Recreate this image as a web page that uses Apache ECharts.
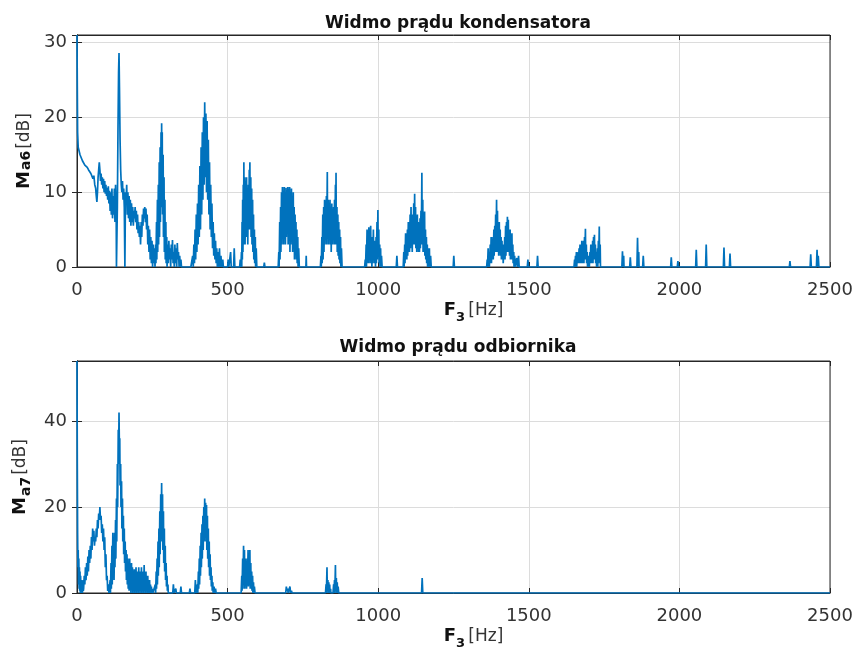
<!DOCTYPE html>
<html>
<head>
<meta charset="utf-8">
<script src="https://cdn.jsdelivr.net/npm/echarts@6/dist/echarts.min.js"></script>
<style>
	html, body { margin: 0; padding: 0; background: #fff; }
	#wykres { width: 858px; height: 660px; }
</style>
</head>
<body>
<div id="wykres"></div>
<script>
// dane: [F (Hz), M (dB)]
var tytuly = ['Widmo prądu kondensatora', 'Widmo prądu odbiornika'];
var xTicks = [0, 500, 1000, 1500, 2000, 2500];
var yMax = [31, 54];
var yStep = [10, 20];

var widmoKondensatora = [
	[0,31],[1,24],[2,18],[4,16],[7,15.5],[10,15],[14,14.6],[18,14.2],[22,14],[26,13.6],[30,13.4],[34,13.3],[38,13],[42,12.8],[46,12.5],[50,12.6],[53,11.8],[56,12.2],[59,11],[62,10.5],[64,9.5],[66,8.7],[68,10],[70,12],[72,13],[74,14],[76,13],[78,11.5],[80,12.5],[82,11],[84,12],[86,10.5],[88,11.8],[90,10],[92,11.5],[94,9.8],[96,11],[98,9.5],[100,10.6],[102,9],[104,10.8],[106,8.5],[108,10.2],[110,7.5],[112,10],[114,7],[116,10.5],[118,6.5],[120,9.5],[122,7],[124,10.5],[126,6],[128,11],[130,8],
	[131,0],[134,8],[136,18],[138,26],[139.5,28.6],[141,24],[143,17],[145,13],[147,11],[149,10],[151,11.5],[153,9],[155,10.5],[157,8],[159,0],[161,10],[163,9],[165,11],[167,7],[169,10],[171,6.5],[173,9.5],[175,6],[177,9],[179,5.5],[181,8.5],[183,6],[185,8],[187,5.5],[189,7.5],[191,6.5],[193,8],[195,6],[197,7.5],[199,5],[201,7],[203,4.5],[205,6],[207,4],[209,5.5],[211,3],[213,6],[215,4],[217,7],[219,5.5],[221,7.8],[223,6.5],[225,8],[227,6],[229,7.8],[231,5],[233,7],[235,3],[237,5.5],[239,2],[241,5],[243,1],[245,4],[247,0.5],[249,3.5],[251,0],[253,3],[255,0.5],[257,2.5],[259,0],
	[261,3],[262,0.5],[264,6],[265,1],[267,9],[268,2],[270,11],[271,3],[273,14],[274,4],[276,16],[277,6],[279,18],[280,8],[281,19.2],[282,10],[283,18],[284,7],[286,15],[287,4],[289,12],[290,2],[292,9],[293,1],[295,6],[296,0.5],[298,4],[299,0],
	[301,3],[303,0.5],[305,3.5],[307,1],[309,2.5],[311,0],[313,3],[315,1],[317,3.6],[319,0.5],[321,2],[323,0],[325,3],[327,0.5],[329,2.5],[331,0],[333,3.2],[335,1],[337,2],[339,0],[341,1.5],[343,0],[345,1],[347,0],[378,0],
	[381,0],[384,1.5],[386,0],[388,3],[390,0.5],[392,5],[394,1],[396,7],[398,2],[400,8.5],[402,3],[404,11],[406,4],[408,13.5],[410,5],[412,16],[414,7],[416,18],[418,9],[420,20],[422,11],[424,22],[426,12],[428,20.5],[430,10],[432,19.5],[434,9],[436,17],[438,7],[440,14],[442,5],[444,11],[446,4],[448,8.5],[450,2.5],[452,6],[454,1.5],[456,4.5],[458,1],[460,3.5],[462,0.5],[464,2.5],[466,0],[468,2],[470,0],[473,2.5],[475,0],[478,1.5],[480,0],[484,1],[486,0],
	[500,0],[502,1],[504,0],[508,0],[510,2],[512,0],[520,0],[522,2.5],[524,0],
	[540,0],[542,1],[544,0],[546,2],[547,0],[548,6],[549,1],[550,9],[551,2],[552,11],[553,3],[554,14],[555,4],[557,12],[558,3],[560,11.5],[561,5],[563,12],[564,4],[566,10.5],[567,3],[569,11],[570,5],[572,13],[573,6],[574,14],[575,5],[577,12],[578,4],[580,10.5],[581,3],[583,9],[584,2],[586,7],[587,1],[589,5],[590,0.5],[592,4],[593,0],[595,2.5],[597,0],
	[620,0],[622,0.6],[624,0],
	[668,0],[670,2],[671,0],[673,6],[674,1],[676,8],[677,2],[679,10],[680,3],[682,10.7],[683,4],[685,10.2],[686,3],[688,10.7],[689,5],[691,10],[692,3],[694,10.6],[695,4],[697,10.3],[698,5],[700,10.7],[701,3],[703,10.4],[704,4],[706,10.7],[707,2],[709,10],[710,3],[712,10.5],[713,4],[715,9],[716,2],[718,10],[719,3],[721,8],[722,1],[724,7],[725,2],[727,6],[728,1],[730,5],[731,0.5],[733,4],[734,0],[736,2.5],[738,0],
	[760,0],[761,1.5],[762,0],
	[808,0],[810,1.5],[811,0],[813,4],[814,0.5],[816,7],[817,1],[819,8],[820,2],[822,9],[823,3],[825,8.5],[826,4],[828,9.5],[829,3],[831,12.7],[832,4],[834,9],[835,3],[837,8.5],[838,5],[840,9],[841,3],[843,8],[844,2],[846,8.5],[847,4],[849,7.5],[850,3],[852,8],[853,4],[855,9],[856,3],[858,11],[859,4],[860,12.6],[861,3],[863,8],[864,2],[866,7],[867,1.5],[869,6],[870,1],[872,5],[873,0.5],[875,4],[876,0],[878,2.5],[880,0],
	[955,0],[957,1],[958,0],[960,3],[961,0],[963,5],[964,1],[966,4],[967,0.5],[969,5.3],[970,1],[972,4.5],[973,0.5],[975,5.5],[976,1],[978,4],[979,0],[981,3],[982,0.5],[984,5],[985,1],[987,3.5],[988,0.5],[990,2.5],[991,0],[993,4],[994,0.5],[996,6],[997,1],[999,7.6],[1000,1.5],[1002,5],[1003,0.5],[1005,3],[1006,0],[1008,2.5],[1009,0],[1011,1.5],[1013,0],
	[1060,0],[1062,1.5],[1064,0],
	[1083,0],[1085,2],[1086,0],[1088,3],[1089,0.5],[1091,4.5],[1092,1],[1094,3.5],[1095,1],[1097,5],[1098,1.5],[1100,6],[1101,2],[1103,5.5],[1104,2],[1106,7],[1107,2.5],[1109,8],[1110,3],[1112,6.5],[1113,2],[1115,7],[1116,3],[1118,8.5],[1119,3],[1121,9.8],[1122,3],[1124,8],[1125,2.5],[1127,6.5],[1128,2],[1130,7],[1131,2.5],[1133,6],[1134,2],[1136,5.5],[1137,2],[1139,6.5],[1140,2.5],[1142,7.5],[1143,3],[1145,12.6],[1146,3],[1148,9],[1149,2],[1151,6],[1152,2],[1154,7.4],[1155,1.5],[1157,5],[1158,1],[1160,4],[1161,0.5],[1163,3],[1164,0],[1166,2.5],[1167,0],[1170,2.5],[1171,0],[1174,1.5],[1176,0],
	[1249,0],[1251,1.5],[1253,0],
	[1360,0],[1362,1],[1363,0],[1365,2.5],[1366,0],[1368,1.5],[1369,0],[1372,3],[1373,0.5],[1375,4],[1376,0.5],[1378,3],[1379,1],[1381,4],[1382,1],[1384,5],[1385,1.5],[1387,5.5],[1388,2],[1390,7],[1391,2],[1393,9],[1394,2],[1396,7.5],[1397,2],[1399,5.5],[1400,1.5],[1402,6],[1403,2],[1405,5],[1406,1.5],[1408,4],[1409,1],[1411,3.5],[1412,1],[1414,3],[1415,0.5],[1417,2],[1418,1],[1420,4],[1421,1],[1423,5.5],[1424,1.5],[1426,6],[1427,2],[1429,6.7],[1430,2],[1432,6.3],[1433,2],[1435,5],[1436,1.5],[1438,5],[1439,1],[1441,4],[1442,1],[1444,4.5],[1445,1],[1447,3],[1448,0.5],[1450,2],[1451,0],[1453,1.5],[1454,0],[1458,0],[1460,1.2],[1462,0],[1466,1.5],[1468,0],
	[1495,0],[1497,1],[1499,0],[1527,0],[1529,1.5],[1531,0],
	[1650,0],[1652,1],[1653,0],[1655,1.5],[1656,0],[1658,2],[1659,0],[1661,1.5],[1662,0.5],[1664,2],[1665,0.5],[1667,2.5],[1668,0.5],[1670,3],[1671,0.5],[1673,2.5],[1674,0.5],[1676,3.5],[1677,0.5],[1679,2],[1680,0.5],[1682,3.5],[1683,0.5],[1685,4],[1686,1],[1688,5.1],[1689,1],[1691,3],[1692,0.5],[1694,2],[1695,0],[1697,1.5],[1698,0],[1700,1],[1701,0],[1703,2],[1704,0.5],[1706,3],[1707,0.5],[1709,2.5],[1710,0.5],[1712,3.5],[1713,0.5],[1715,4],[1716,1],[1718,4.3],[1719,1],[1721,3],[1722,0.5],[1724,2],[1725,0],[1728,2.5],[1729,0],[1731,3.5],[1732,0.5],[1734,5.4],[1735,1],[1737,3],[1738,0],[1741,0],
	[1809,0],[1811,2.1],[1813,0],[1815,1.5],[1816,0],[1835,0],[1837,1.3],[1839,0],[1859,0],[1861,3.9],[1863,0],[1865,2],[1866,0],[1878,0],[1880,1.5],[1882,0],
	[1971,0],[1973,1.3],[1975,0],[1993,0],[1995,0.8],[1997,0],
	[2054,0],[2056,2.3],[2058,0],[2087,0],[2089,3.0],[2091,0],[2146,0],[2148,2.6],[2150,0],[2166,0],[2168,1.8],[2170,0],
	[2365,0],[2367,0.8],[2369,0],[2434,0],[2436,1.7],[2438,0],[2455,0],[2457,2.3],[2459,0],[2461,1.5],[2463,0],[2500,0]
];

var widmoOdbiornika = [
	[0,54],[1,30],[2,14],[3,6],[4,10],[5,2],[6,8],[7,1],[8,6],[9,0.5],[10,5],[11,0],[12,4],[13,0.5],[14,3],[15,0],[17,2],[18,0],[20,3],[21,0.5],
	[22,1],[24,4],[26,2],[28,6],[30,3],[32,7],[34,4],[36,8.5],[38,5],[40,10],[42,7],[44,11],[46,8],[48,13],[50,10],[52,15],[54,12],[56,14.5],[58,11],[60,13],[62,12],[64,15],[66,13],[68,17],[70,15],[72,18.5],[74,17],[76,20],[78,17],[80,18],[82,14],[84,16],[86,12],[88,15],[90,10],[92,13],[94,6],[96,9],[98,3],[100,4],[102,0.5],[104,2],[106,0],
	[108,0],[110,3],[111,0],[113,7],[114,1],[116,11],[117,2],[119,14],[120,4],[122,10],[123,3],[125,14],[126,6],[128,17],[129,8],[131,22],[132,12],[134,30],[135,20],[137,38],[138,30],[139.5,42],[141,32],[142,36],[143,25],[145,30],[146,20],[148,26],[149,15],[151,22],[152,12],[154,18],[155,9],[157,15],[158,7],[160,12],[161,5],[163,10],[164,3],[166,9],[167,2],[169,8],[170,1],[172,7],[173,0.5],[175,8],[176,1],[178,6],[179,0],[181,7],[182,1],[184,6],[185,0],[187,5],[188,0.5],[190,5.5],[191,0],[193,4],[194,1],[196,6],[197,0],[199,5],[200,1],[202,4],[203,0],[205,6],[206,0.5],[208,5],[209,0],[211,4],[212,1],[214,6],[215,0],[217,3.5],[218,0.5],[220,5],[221,0],[223,6.5],[224,1],[226,4],[227,0],[229,5],[230,0.5],[232,3],[233,0],[235,4],[236,0],[238,2.5],[239,0],[241,3],[242,0],[244,2],[245,0],[247,1.5],[248,0],[251,1],[252,0],
	[258,0],[260,2],[261,0],[263,5],[264,1],[266,8],[267,2],[269,12],[270,4],[272,15],[273,6],[275,19],[276,9],[278,23],[279,12],[281,25.6],[282,13],[284,23],[285,10],[287,19],[288,7],[290,15],[291,5],[293,11],[294,3],[296,7],[297,1.5],[299,4],[300,0.5],[302,2],[303,0],
	[318,0],[320,2],[322,0],[326,0],[328,1],[330,0],[343,0],[345,1.5],[347,0],[373,0],[375,1],[377,0],[391,0],[393,3],[395,0],
	[398,0],[400,2],[401,0],[403,5],[404,1],[406,8],[407,2],[409,11],[410,4],[412,14],[413,6],[415,16],[416,8],[418,18],[419,10],[421,20],[422,12],[424,22],[425,14],[427,21],[428,12],[430,20.5],[431,10],[433,18],[434,8],[436,15],[437,6],[439,12],[440,4],[442,9],[443,3],[445,6],[446,1.5],[448,4],[449,0.5],[451,2.5],[452,0],[455,1.5],[457,0],[460,1],[462,0],
	[545,0],[547,4],[548,0.5],[550,8],[551,1],[553,11],[554,2],[556,10],[557,1],[559,8],[560,2],[562,6],[563,1],[565,8],[566,2],[568,10],[569,1.5],[571,9],[572,2],[574,10],[575,1],[577,7],[578,1],[580,5],[581,0.5],[583,4],[584,0],[586,2.5],[587,0],[589,1.5],[591,0],
	[693,0],[695,1.5],[697,0.5],[699,1],[701,0],[705,0],[707,1.5],[709,0],[712,0.5],[714,0],
	[825,0],[827,2],[828,0],[830,6],[831,0.5],[833,3],[834,0],[836,2.5],[837,0],[839,2],[840,0],[842,1],[843,0],[850,0],[852,2],[853,0],[855,3],[856,0],[858,6.5],[859,0.5],[861,3.5],[862,0],[864,2.5],[865,0],[867,1.5],[869,0],
	[1144,0],[1146,3.5],[1148,0],[2500,0]
];

var czcionka = 'DejaVu Sans';
var kolorOsi = '#262626';
var kolorLinii = '#0072BD';

function osX(grid, top) {
	return {
		type: 'value', gridIndex: grid, position: top ? 'top' : 'bottom',
		min: xTicks[0], max: xTicks[xTicks.length - 1], interval: 500,
		axisLine: { show: true, onZero: false, lineStyle: { color: kolorOsi, width: 1 } },
		axisTick: { show: true, inside: true, length: 5, lineStyle: { color: kolorOsi } },
		axisLabel: { show: !top, margin: 14, color: '#333', fontFamily: czcionka, fontSize: 18,
			formatter: function(v) { return String(v); } },
		splitLine: { show: !top, lineStyle: { color: '#dcdcdc', width: 1 } },
		name: top ? '' : '{f|F}{s|3} {u|[Hz]}',
		nameLocation: 'middle', nameGap: 30,
		nameTextStyle: {
			padding: [0, 0, 0, 40],
			rich: {
				f: { fontFamily: czcionka, fontWeight: 'bold', fontSize: 18, color: '#111' },
				s: { fontFamily: czcionka, fontWeight: 'bold', fontSize: 13, color: '#111', padding: [14, 0, 0, 0] },
				u: { fontFamily: czcionka, fontSize: 17, color: '#333' }
			}
		}
	};
}

function osY(grid, right, idx) {
	return {
		type: 'value', gridIndex: grid, position: right ? 'right' : 'left',
		min: 0, max: yMax[idx], interval: yStep[idx],
		axisLine: { show: true, lineStyle: { color: kolorOsi, width: 1 } },
		axisTick: { show: true, inside: true, length: 5, lineStyle: { color: kolorOsi } },
		axisLabel: { show: !right, showMaxLabel: false, margin: 10, color: '#333', fontFamily: czcionka, fontSize: 18 },
		splitLine: { show: !right, lineStyle: { color: '#dcdcdc', width: 1 } },
		name: right ? '' : '{m|M}{s|a' + (idx === 0 ? '6' : '7') + '}{u|[dB]}',
		nameLocation: 'middle', nameGap: 42, nameRotate: 90,
		nameTextStyle: {
			rich: {
				m: { fontFamily: czcionka, fontWeight: 'bold', fontSize: 18, color: '#111' },
				s: { fontFamily: czcionka, fontWeight: 'bold', fontSize: 14, color: '#111', padding: [idx === 0 ? 4 : 12, 2, 0, 1] },
				u: { fontFamily: czcionka, fontSize: 17, color: '#333' }
			}
		}
	};
}

var wykres = echarts.init(document.getElementById('wykres'), null, { renderer: 'canvas' });
var option = {
	animation: false,
	backgroundColor: '#fff',
	title: [
		{ text: tytuly[0], left: 453, top: 10, textAlign: 'center',
			textStyle: { fontFamily: czcionka, fontWeight: 'bold', fontSize: 17, color: '#111' } },
		{ text: tytuly[1], left: 453, top: 334, textAlign: 'center',
			textStyle: { fontFamily: czcionka, fontWeight: 'bold', fontSize: 17, color: '#111' } }
	],
	grid: [
		{ left: 77, top: 35, width: 753, height: 232, show: true, z: 3, borderColor: kolorOsi, borderWidth: 1, backgroundColor: 'transparent' },
		{ left: 77, top: 361, width: 753, height: 232, show: true, z: 3, borderColor: kolorOsi, borderWidth: 1, backgroundColor: 'transparent' }
	],
	xAxis: [osX(0, false), osX(0, true), osX(1, false), osX(1, true)],
	yAxis: [osY(0, false, 0), osY(0, true, 0), osY(1, false, 1), osY(1, true, 1)],
	series: [
		{ type: 'line', xAxisIndex: 0, yAxisIndex: 0, data: widmoKondensatora, showSymbol: false, symbol: 'none',
			lineStyle: { color: kolorLinii, width: 1.7 }, sampling: null, clip: true },
		{ type: 'line', xAxisIndex: 2, yAxisIndex: 2, data: widmoOdbiornika, showSymbol: false, symbol: 'none',
			lineStyle: { color: kolorLinii, width: 1.7 }, sampling: null, clip: true }
	]
};
wykres.setOption(option);
window.onresize = function() {
	wykres.resize();
};
</script>
</body>
</html>
